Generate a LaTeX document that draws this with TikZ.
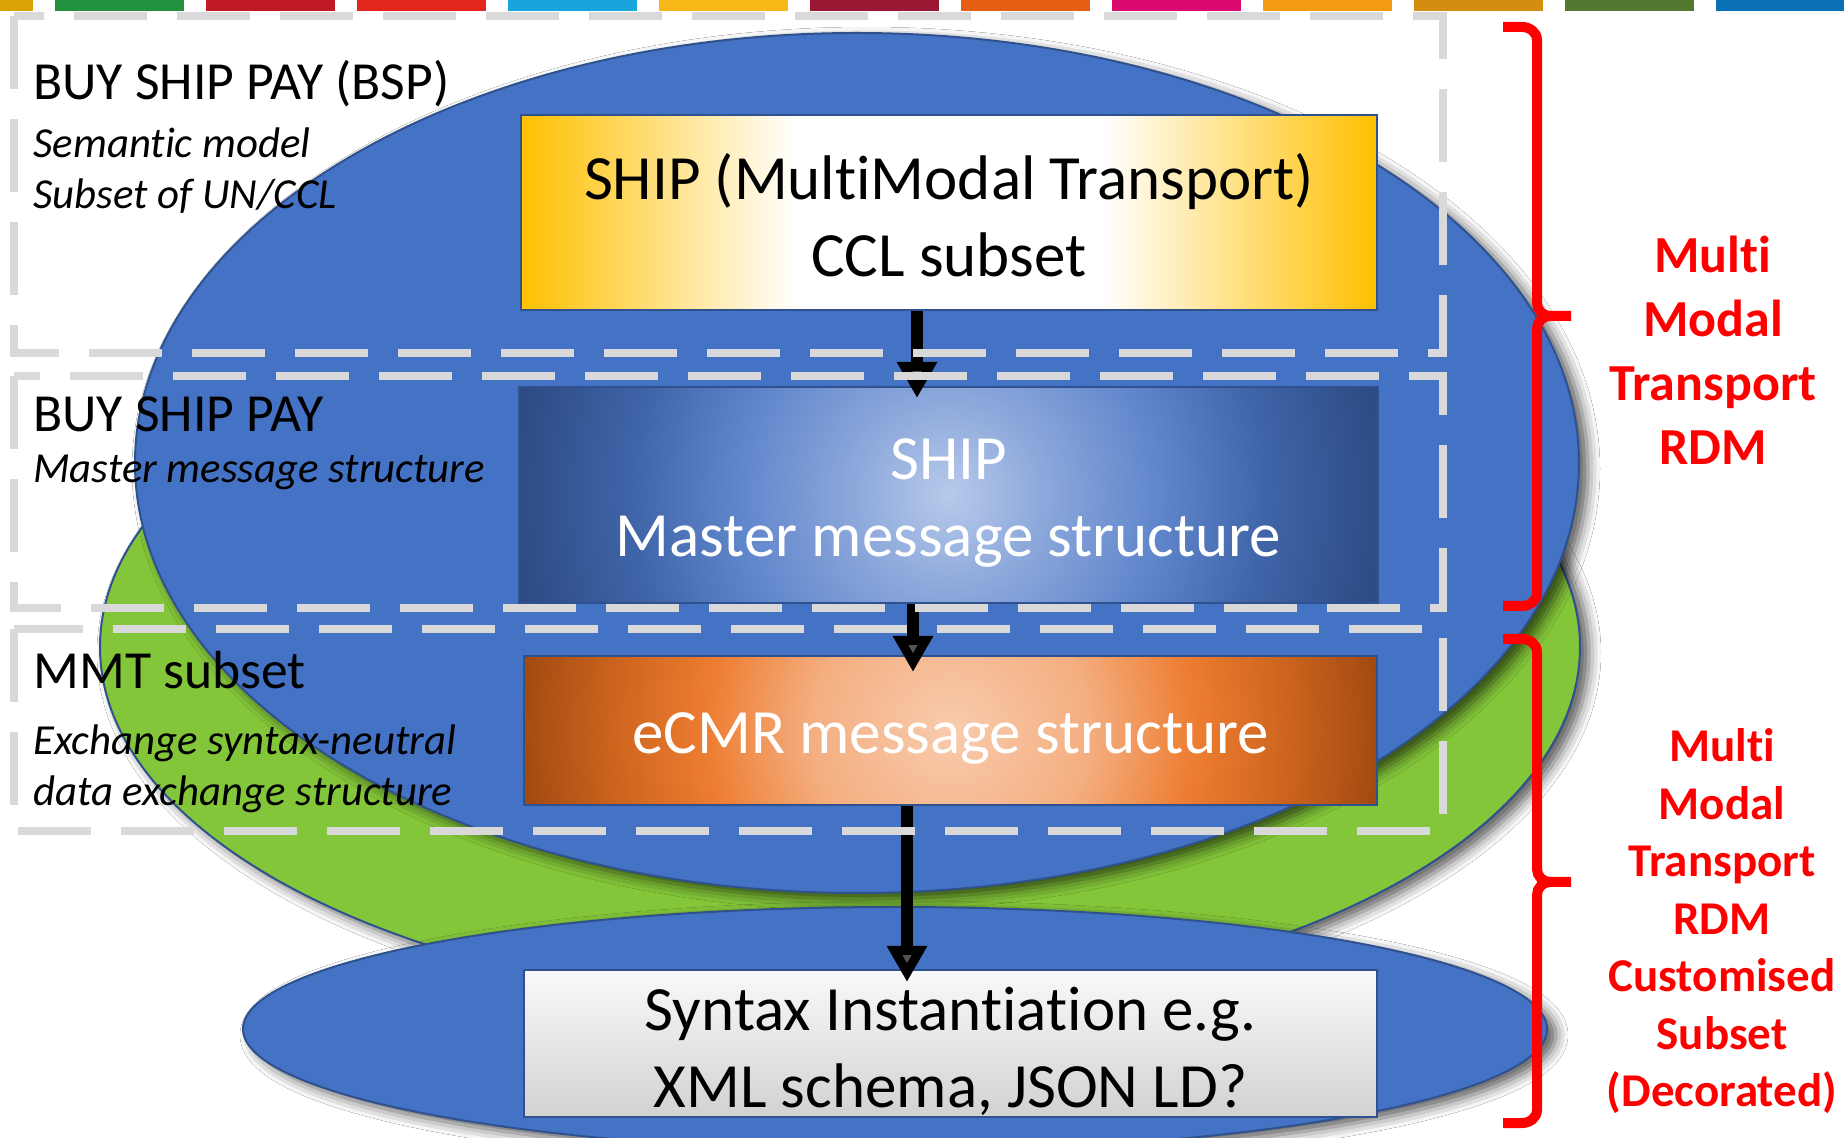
\documentclass[tikz,border=0pt]{standalone}
\usepackage{fontspec}
\setmainfont{Carlito}[Ligatures=NoCommon]
\usetikzlibrary{arrows.meta,shadows.blur}

\definecolor{ellblue}{HTML}{4472C4}
\definecolor{edgeblue}{HTML}{2F528F}
\definecolor{ellgreen}{HTML}{84C63A}
\definecolor{dashgray}{HTML}{D9D9D9}
\definecolor{gold}{HTML}{FFC000}
\definecolor{redlbl}{HTML}{FF0000}
% blue radial
\definecolor{bA}{HTML}{B7CAEA}
\definecolor{bB}{HTML}{8FAADC}
\definecolor{bC}{HTML}{5F85CB}
\definecolor{bD}{HTML}{3F64A8}
\definecolor{bE}{HTML}{2C4A82}
% orange radial
\definecolor{oA}{HTML}{F8CBAD}
\definecolor{oB}{HTML}{F4AE80}
\definecolor{oC}{HTML}{ED7D31}
\definecolor{oD}{HTML}{CF661F}
\definecolor{oE}{HTML}{A04810}
% grey
\definecolor{gTop}{HTML}{F9F9F9}
\definecolor{gBot}{HTML}{D2D2D2}
% SDG bar
\definecolor{sdgA}{HTML}{D9A307}
\definecolor{sdgB}{HTML}{21913D}
\definecolor{sdgC}{HTML}{C01A24}
\definecolor{sdgD}{HTML}{E2261C}
\definecolor{sdgE}{HTML}{17A5DB}
\definecolor{sdgF}{HTML}{F8B918}
\definecolor{sdgG}{HTML}{9A1833}
\definecolor{sdgH}{HTML}{E65E12}
\definecolor{sdgI}{HTML}{DB0A6E}
\definecolor{sdgJ}{HTML}{F49B12}
\definecolor{sdgK}{HTML}{D38E10}
\definecolor{sdgL}{HTML}{51792F}
\definecolor{sdgM}{HTML}{0A70B5}

\pgfdeclarehorizontalshading{yellowh}{100bp}{color(0bp)=(gold); color(25bp)=(gold); color(41bp)=(white); color(59bp)=(white); color(75bp)=(gold); color(100bp)=(gold)}
\pgfdeclareradialshading{bluerad}{\pgfpoint{0bp}{0bp}}{color(0bp)=(bA); color(5bp)=(bB); color(12bp)=(bC); color(18bp)=(bD); color(25bp)=(bE); color(50bp)=(bE)}
\pgfdeclareradialshading{orangerad}{\pgfpoint{0bp}{0bp}}{color(0bp)=(oA); color(8bp)=(oB); color(14bp)=(oC); color(19bp)=(oD); color(25bp)=(oE); color(50bp)=(oE)}

\begin{document}
\begin{tikzpicture}[x=0.5pt,y=-0.5pt,
  ellshape/.style={fill=#1, draw=edgeblue, line width=1pt,
    blur shadow={shadow xshift=4.5pt, shadow yshift=-3pt, shadow blur radius=6pt, shadow opacity=65}},
  boxbase/.style={draw=edgeblue, line width=1pt, inner sep=0pt},
  boxtext/.style={inner sep=0pt, align=center, font=\fontsize{31.5}{38.5}\selectfont},
  dashbox/.style={draw=dashgray, line width=4pt, dash pattern=on 36.5pt off 15pt},
  bigarrow/.style={line width=6pt, -{Triangle[length=18pt,width=19pt]}},
  redbrace/.style={draw=redlbl, line width=5pt},
  titlelbl/.style={anchor=west, inner sep=0pt, font=\fontsize{26.8}{32}\selectfont},
  sublbl/.style={anchor=west, inner sep=0pt, align=left, font=\fontsize{21.4}{25.5}\selectfont\itshape},
  redlabel/.style={text=redlbl, align=center, inner sep=0pt}
]
\useasboundingbox (0,0) rectangle (1844,1138);
\fill[white] (0,0) rectangle (1844,1138);

% SDG colour bar
\fill[sdgA] (0,0) rectangle (33,11);
\foreach \c [count=\i from 0] in {sdgB,sdgC,sdgD,sdgE,sdgF,sdgG,sdgH,sdgI,sdgJ,sdgK,sdgL,sdgM}
  \fill[\c] ({55+151*\i},0) rectangle ({184+151*\i},11);

% ellipses
\path[ellshape=ellgreen] (840,647) ellipse [x radius=370pt, y radius=179.5pt];
\path[ellshape=ellblue] (857,463) ellipse [x radius=361pt, y radius=215pt];
\path[ellshape=ellblue] (895,1029) ellipse [x radius=326pt, y radius=61pt];

% boxes
\node[boxbase, shade, shading=yellowh, minimum width=428pt, minimum height=97.5pt]
  (ship) at (949,212.5) {};
\node[boxbase, minimum width=429.5pt, minimum height=108pt,
  path picture={\shade[shading=bluerad] (path picture bounding box.center) circle (221pt);}]
  (master) at (948.5,495) {};
\node[boxbase, minimum width=426.5pt, minimum height=74.5pt,
  path picture={\shade[shading=orangerad] (path picture bounding box.center) circle (218pt);}]
  (ecmr) at (950.5,730.5) {};
\node[boxbase, top color=gTop, bottom color=gBot, minimum width=426.5pt, minimum height=73.5pt]
  (syntax) at (950.5,1043.5) {};

% box texts
\node[boxtext] (shiptxt) at (949,215) {SHIP (MultiModal Transport)\\CCL subset};
\node[boxtext, text=white] (mastertxt) at (948.5,503) {SHIP\\Master message structure};
\node[boxtext, text=white] (ecmrtxt) at (950.5,738.5) {eCMR message structure};
\node[boxtext] (syntaxtxt) at (950.5,1051) {Syntax Instantiation e.g.\\XML schema, JSON LD?};

% arrows
\coordinate (t1) at (917,398);
\coordinate (t2) at (913,672);
\coordinate (t3) at (907,982);
\draw[bigarrow] (ship.south -| t1) -- (t1);
\draw[bigarrow] (master.south -| t2) -- (t2);
\draw[bigarrow] (ecmr.south -| t3) -- (t3);

% dashed grouping boxes
\draw[dashbox] (14,16) rectangle (1443,353);
\draw[dashbox] (14,376) rectangle (1443,608);
\draw[dashbox] (14,629) rectangle (1443,831);

% left labels
\node[titlelbl] (bsp) at (33,84) {BUY SHIP PAY (BSP)};
\node[sublbl] (bspsub) at (33,171) {Semantic model\\Subset of UN/CCL};
\node[titlelbl] (bsp2) at (33,414) {BUY SHIP PAY};
\node[sublbl] (bsp2sub) at (33,472) {Master message structure};
\node[titlelbl] (mmt) at (33,670) {MMT subset};
\node[sublbl] (mmtsub) at (33,768.5) {Exchange syntax-neutral\\data exchange structure};

% red braces
\draw[redbrace] (1503,27) -- (1522,27) to[out=0,in=90] (1537,40) -- (1537,303)
  to[out=-90,in=180] (1550,316) -- (1571,316);
\draw[redbrace] (1550,316) to[out=180,in=90] (1537,329) -- (1537,593)
  to[out=-90,in=0] (1522,606) -- (1503,606);
\draw[redbrace] (1503,639) -- (1522,639) to[out=0,in=90] (1537,652) -- (1537,869)
  to[out=-90,in=180] (1550,882) -- (1571,882);
\draw[redbrace] (1550,882) to[out=180,in=90] (1537,895) -- (1537,1110)
  to[out=-90,in=0] (1522,1123) -- (1503,1123);

% red labels
\node[redlabel, font=\fontsize{26}{32}\selectfont\bfseries] (rdm) at (1713,350.5)
  {Multi\\Modal\\Transport\\RDM};
\node[redlabel, font=\fontsize{23.5}{28.75}\selectfont\bfseries] (rdmsub) at (1722,921.5)
  {Multi\\Modal\\Transport\\RDM\\Customised\\Subset\\(Decorated)};
\end{tikzpicture}
\end{document}
